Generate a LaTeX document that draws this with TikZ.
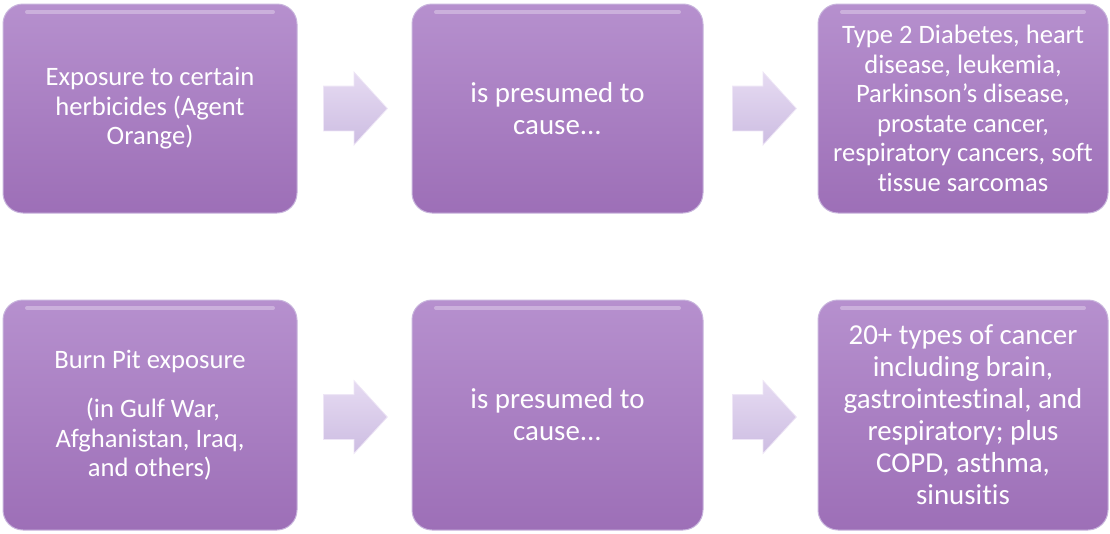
\documentclass[tikz,border=0pt]{standalone}
\usepackage{fontspec}
\setmainfont[Ligatures=NoCommon]{Carlito}
\usetikzlibrary{shapes.arrows,positioning}

\definecolor{boxtop}{RGB}{182,144,206}
\definecolor{boxbottom}{RGB}{157,111,183}
\definecolor{boxedge}{RGB}{200,180,220}
\definecolor{arrowtop}{RGB}{230,219,242}
\definecolor{arrowbottom}{RGB}{205,189,226}
\definecolor{arrowedge}{RGB}{238,230,246}

\begin{document}
\begin{tikzpicture}[x=1pt, y=-1pt,
    box/.style={rectangle, rounded corners=20pt, draw=boxedge, line width=1pt,
        top color=boxtop, bottom color=boxbottom, text=white, align=center,
        inner sep=0pt,
        path picture={\draw[white, opacity=0.3, line width=4pt, line cap=round]
            ([xshift=24pt,yshift=-8pt]path picture bounding box.north west) --
            ([xshift=-24pt,yshift=-8pt]path picture bounding box.north east);}},
    small/.style={font=\fontsize{26.6}{29.5}\selectfont},
    big/.style={font=\fontsize{28.9}{32}\selectfont},
    chevron/.style={single arrow, single arrow head extend=14pt,
        single arrow tip angle=95, minimum height=64pt, inner xsep=0pt,
        inner ysep=22pt, anchor=tail, draw=arrowedge, line width=0.8pt,
        top color=arrowtop, bottom color=arrowbottom}
]
    \useasboundingbox (0,0) rectangle (1110,533);

    % Top row
    \node[box, small, minimum width=294pt, minimum height=209pt] (herb) at (150,108.5)
        {Exposure to certain\\herbicides (Agent\\Orange)};
    \node[box, big, minimum width=291pt, minimum height=209pt] (cause1) at (557.5,108.5)
        {is presumed to\\cause...};
    \node[box, small, minimum width=290pt, minimum height=209pt] (ills1) at (963,108.5)
        {Type 2 Diabetes, heart\\disease, leukemia,\\Parkinson’s disease,\\prostate cancer,\\respiratory cancers, soft\\tissue sarcomas};
    \node[chevron] (arr1) at (323,108.5) {};
    \node[chevron] (arr2) at (732,108.5) {};

    % Bottom row
    \node[box, small, minimum width=294pt, minimum height=230pt] (burn) at (150,415)
        {Burn Pit exposure\\[20pt]~(in Gulf War,\\Afghanistan, Iraq,\\and others)};
    \node[box, big, minimum width=291pt, minimum height=230pt] (cause2) at (557.5,415)
        {is presumed to\\cause...};
    \node[box, big, minimum width=290pt, minimum height=230pt] (ills2) at (963,415)
        {20+ types of cancer\\including brain,\\gastrointestinal, and\\respiratory; plus\\COPD, asthma,\\sinusitis};
    \node[chevron] (arr3) at (323,417) {};
    \node[chevron] (arr4) at (732,417) {};
\end{tikzpicture}
\end{document}
